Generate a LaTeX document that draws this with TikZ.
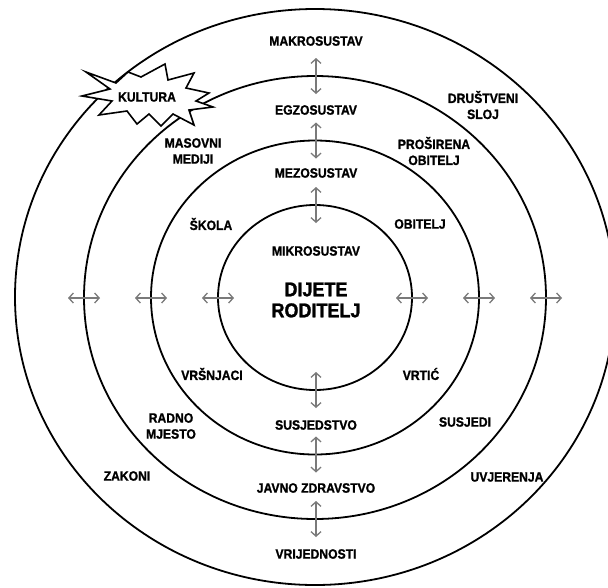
\documentclass[tikz,border=0pt]{standalone}
\usepackage{fontspec}
\newfontfamily\lbl{Liberation Sans}[FakeStretch=0.9, BoldFont={Liberation Sans Bold}, BoldFeatures={FakeStretch=0.9, FakeBold=1.2}]
\usetikzlibrary{arrows.meta}
\tikzset{
  ring/.style={draw=black, line width=1.8pt},
  lab/.style={font=\lbl\bfseries\fontsize{13.5}{16}\selectfont, align=center, inner sep=0pt, text=black},
  big/.style={font=\lbl\bfseries\fontsize{20}{21}\selectfont, align=center, inner sep=0pt, text=black},
  biarrow/.style={draw=black!52, line width=1.3pt, {Straight Barb[length=4.5pt,width=10pt]}-{Straight Barb[length=4.5pt,width=10pt]}},
  burst/.style={draw=black, line width=1.6pt, fill=white, line join=miter}
}
\begin{document}
\begin{tikzpicture}[x=1pt,y=-1pt]
\clip (0,0) rectangle (608,587);
\fill[white] (0,0) rectangle (608,587);
\coordinate (c) at (315,297.5);
% rings
\draw[ring] (315,297) ellipse [x radius=300pt, y radius=288pt];
\draw[ring] (c) ellipse [x radius=231pt, y radius=221.5pt];
\draw[ring] (c) ellipse [x radius=164pt, y radius=157pt];
\draw[ring] (c) ellipse [x radius=97pt, y radius=92.5pt];
% horizontal arrows
\foreach \n/\x in {l1/84,l2/151,l3/218,r3/412,r2/479,r1/546}{
  \coordinate (h\n a) at (\x-16,298);
  \coordinate (h\n b) at (\x+16,298);
  \draw[biarrow] (h\n a) -- (h\n b);
}
% vertical arrows
\foreach \n/\y in {t1/76,t2/140.5,t3/205,b3/390,b2/454.5,b1/519}{
  \coordinate (v\n a) at (316,\y-18);
  \coordinate (v\n b) at (316,\y+18);
  \draw[biarrow] (v\n a) -- (v\n b);
}
% burst
\draw[burst] (86,72) -- (116,83) -- (128,72) -- (141,77) -- (165,64) -- (168,80)
  -- (194,73) -- (186,88) -- (209,93) -- (196,101) -- (213,107) -- (189,110)
  -- (194,125) -- (173,114) -- (161,126) -- (149,114) -- (137,124) -- (127,111)
  -- (99,115) -- (112,101) -- (82,96) -- (110,89) -- cycle;
\node[lab] (kultura) at (147,97) {KULTURA};
% centre labels
\node[lab] (makro) at (316,41) {MAKROSUSTAV};
\node[lab] (egzo) at (316,110) {EGZOSUSTAV};
\node[lab] (mezo) at (316,173) {MEZOSUSTAV};
\node[lab] (mikro) at (316,251) {MIKROSUSTAV};
\node[big] (dijete) at (316,300) {DIJETE\\RODITELJ};
\node[lab] (susjedstvo) at (316,425) {SUSJEDSTVO};
\node[lab] (javno) at (316,488) {JAVNO ZDRAVSTVO};
\node[lab] (vrijednosti) at (316,554) {VRIJEDNOSTI};
% left labels
\node[lab] (masovni) at (193,151) {MASOVNI\\MEDIJI};
\node[lab] (skola) at (211,224) {ŠKOLA};
\node[lab] (vrsnjaci) at (212,374) {VRŠNJACI};
\node[lab] (radno) at (171,426) {RADNO\\MJESTO};
\node[lab] (zakoni) at (127,476) {ZAKONI};
% right labels
\node[lab] (drustveni) at (483,105) {DRUŠTVENI\\SLOJ};
\node[lab] (prosirena) at (434,151) {PROŠIRENA\\OBITELJ};
\node[lab] (obitelj) at (420,224) {OBITELJ};
\node[lab] (vrtic) at (421,374) {VRTIĆ};
\node[lab] (susjedi) at (465,422) {SUSJEDI};
\node[lab] (uvjerenja) at (507,477) {UVJERENJA};
\end{tikzpicture}
\end{document}
